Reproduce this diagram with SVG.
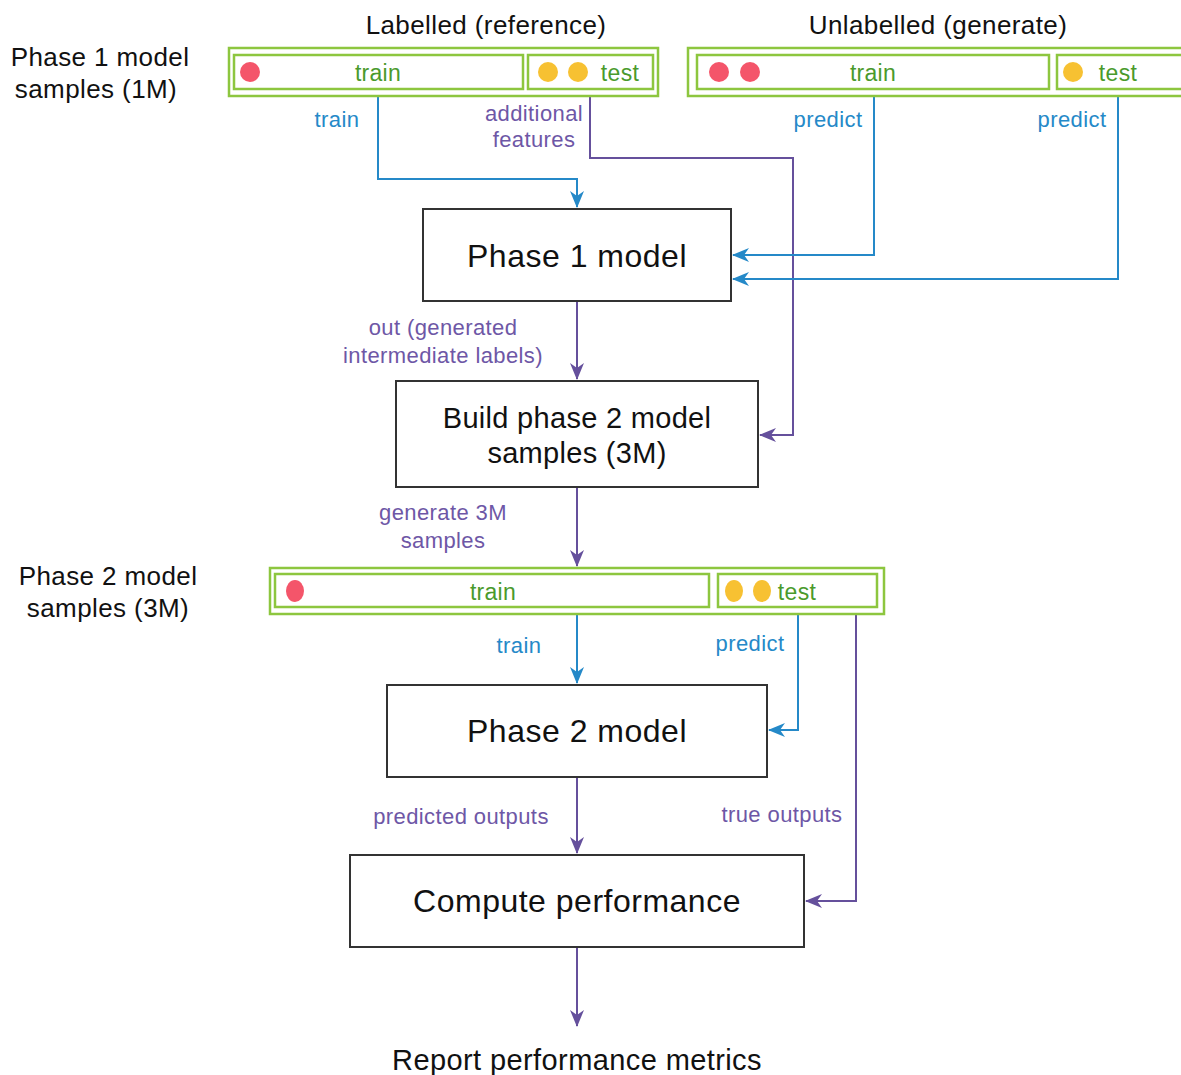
<svg xmlns="http://www.w3.org/2000/svg" width="1181" height="1075" viewBox="0 0 1181 1075">
<defs>
<marker id="ab" viewBox="0 0 20 20" refX="17" refY="10" markerWidth="20" markerHeight="20" markerUnits="userSpaceOnUse" orient="auto"><path d="M1,3 L18,10 L1,17 L6,10 Z" fill="#2589c8"/></marker>
<marker id="ap" viewBox="0 0 20 20" refX="17" refY="10" markerWidth="20" markerHeight="20" markerUnits="userSpaceOnUse" orient="auto"><path d="M1,3 L18,10 L1,17 L6,10 Z" fill="#65509c"/></marker>
<style>
text{font-family:"Liberation Sans",Arial,sans-serif;text-anchor:middle}
.hdr{font-size:26px;letter-spacing:0.4px;fill:#111}
.box{fill:#fff;stroke:#333;stroke-width:2}
.bt{font-size:32px;letter-spacing:0.5px;fill:#111}
.bs{font-size:29px;letter-spacing:0.3px;fill:#111}
.outer{fill:#fff;stroke:#8dc63f;stroke-width:2.5}
.inner{fill:#fff;stroke:#8dc63f;stroke-width:2.5}
.gt{font-size:23px;letter-spacing:0.3px;fill:#4a9a2c}
.red{fill:#f4556a}
.yel{fill:#f7c132}
.cb{fill:none;stroke:#2589c8;stroke-width:2;marker-end:url(#ab)}
.cp{fill:none;stroke:#65509c;stroke-width:2;marker-end:url(#ap)}
.lb{font-size:22px;letter-spacing:0.4px;fill:#2589c8}
.lp{font-size:22px;letter-spacing:0.4px;fill:#6e57a6}
</style>
</defs>
<rect width="1181" height="1075" fill="#fff"/>

<g id="connectors">
<path class="cb" d="M378,89 V179 H577 V207"/>
<path class="cp" d="M590,89 V158 H793 V435 H760"/>
<path class="cb" d="M874,89 V255 H733"/>
<path class="cb" d="M1118,89 V279 H733"/>
<path class="cp" d="M577,301 V379"/>
<path class="cp" d="M577,487 V566"/>
<path class="cb" d="M577,607 V683"/>
<path class="cb" d="M798,607 V730 H769"/>
<path class="cp" d="M856,607 V901 H806"/>
<path class="cp" d="M577,777 V853"/>
<path class="cp" d="M577,947 V1026"/>
<text class="lb" x="337" y="127">train</text>
<text class="lp" x="534" y="121">additional</text>
<text class="lp" x="534" y="147">features</text>
<text class="lb" x="828" y="127">predict</text>
<text class="lb" x="1072" y="127">predict</text>
<text class="lp" x="443" y="335">out (generated</text>
<text class="lp" x="443" y="363">intermediate labels)</text>
<text class="lp" x="443" y="520">generate 3M</text>
<text class="lp" x="443" y="548">samples</text>
<text class="lb" x="519" y="653">train</text>
<text class="lb" x="750" y="651">predict</text>
<text class="lp" x="461" y="824">predicted outputs</text>
<text class="lp" x="782" y="822">true outputs</text>
</g>

<g id="label-labelled"><text class="hdr" x="486" y="34">Labelled (reference)</text></g>
<g id="label-unlabelled"><text class="hdr" x="938" y="34">Unlabelled (generate)</text></g>
<g id="label-phase1-samples"><text class="hdr" x="100" y="66">Phase 1 model</text><text class="hdr" x="96" y="98">samples (1M)</text></g>
<g id="label-phase2-samples"><text class="hdr" x="108" y="585">Phase 2 model</text><text class="hdr" x="108" y="617">samples (3M)</text></g>

<g id="labelled-set">
<rect class="outer" x="229" y="48" width="429" height="48"/>
<rect class="inner" x="234" y="55" width="289" height="34"/>
<rect class="inner" x="528" y="55" width="125" height="34"/>
<circle class="red" cx="250" cy="72" r="10"/>
<circle class="yel" cx="548" cy="72" r="10"/>
<circle class="yel" cx="578" cy="72" r="10"/>
<text class="gt" x="378" y="81">train</text>
<text class="gt" x="620" y="81">test</text>
</g>

<g id="unlabelled-set">
<rect class="outer" x="688" y="48" width="500" height="48"/>
<rect class="inner" x="697" y="55" width="352" height="34"/>
<rect class="inner" x="1057" y="55" width="130" height="34"/>
<circle class="red" cx="719" cy="72" r="10"/>
<circle class="red" cx="750" cy="72" r="10"/>
<circle class="yel" cx="1073" cy="72" r="10"/>
<text class="gt" x="873" y="81">train</text>
<text class="gt" x="1118" y="81">test</text>
</g>

<g id="phase1-model">
<rect class="box" x="423" y="209" width="308" height="92"/>
<text class="bt" x="577" y="267">Phase 1 model</text>
</g>

<g id="build-phase2">
<rect class="box" x="396" y="381" width="362" height="106"/>
<text class="bs" x="577" y="428">Build phase 2 model</text>
<text class="bs" x="577" y="463">samples (3M)</text>
</g>

<g id="phase2-set">
<rect class="outer" x="270" y="568" width="614" height="46"/>
<rect class="inner" x="275" y="574" width="434" height="33"/>
<rect class="inner" x="718" y="574" width="159" height="33"/>
<ellipse class="red" cx="295" cy="591" rx="9" ry="11"/>
<ellipse class="yel" cx="734" cy="591" rx="9" ry="11"/>
<ellipse class="yel" cx="762" cy="591" rx="9" ry="11"/>
<text class="gt" x="493" y="600">train</text>
<text class="gt" x="797" y="600">test</text>
</g>

<g id="phase2-model">
<rect class="box" x="387" y="685" width="380" height="92"/>
<text class="bt" x="577" y="742">Phase 2 model</text>
</g>

<g id="compute-performance">
<rect class="box" x="350" y="855" width="454" height="92"/>
<text class="bt" x="577" y="912">Compute performance</text>
</g>

<g id="report"><text class="hdr" x="577" y="1070" style="font-size:29px">Report performance metrics</text></g>
</svg>
